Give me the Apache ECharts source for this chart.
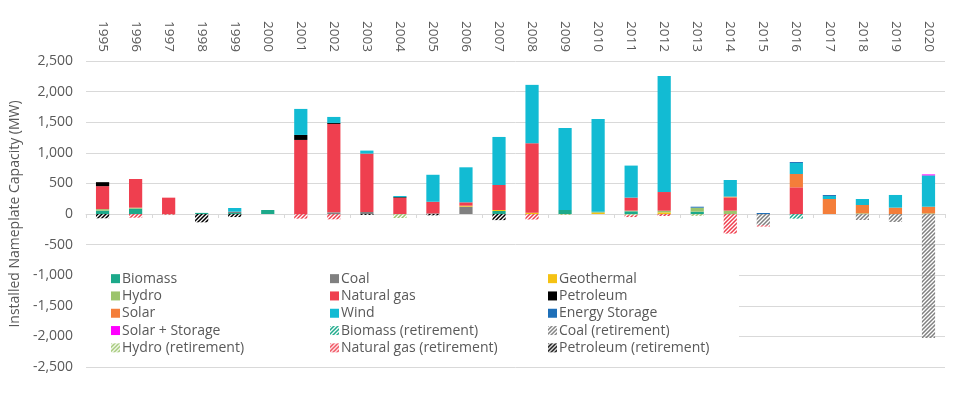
<!DOCTYPE html>
<html><head><meta charset="utf-8">
<script src="https://cdn.jsdelivr.net/npm/echarts@6/dist/echarts.min.js"></script>
<style>html,body{margin:0;padding:0;background:#fff}#c{width:962px;height:395px}</style>
</head><body><div id="c"></div>
<script>
const years = ['1995','1996','1997','1998','1999','2000','2001','2002','2003','2004','2005','2006','2007','2008','2009','2010','2011','2012','2013','2014','2015','2016','2017','2018','2019','2020'];
const yTicks = [-2500,-2000,-1500,-1000,-500,0,500,1000,1500,2000,2500];
//                 1995 1996 1997 1998 1999 2000 2001 2002 2003 2004 2005 2006 2007 2008 2009 2010 2011 2012 2013 2014 2015 2016 2017 2018 2019 2020
const biomass     = [55,  87,  0,   18,  16,  65,  0,   0,   0,   0,   0,   0,   49,  0,   65,  0,   44,  0,   38,  0,   0,   0,   0,   0,   0,   0];
const coal        = [0,   0,   0,   0,   22,  0,   0,   27,  33,  0,   10,  120, 0,   0,   0,   0,   0,   0,   0,   0,   0,   0,   0,   0,   0,   0];
const geothermal  = [0,   0,   0,   0,   0,   0,   0,   0,   0,   0,   0,   16,  16,  22,  0,   20,  0,   27,  0,   0,   0,   0,   0,   0,   0,   0];
const hydro       = [25,  16,  0,   0,   0,   0,   0,   0,   0,   0,   0,   0,   0,   0,   0,   18,  11,  27,  65,  55,  0,   0,   0,   11,  0,   10];
const naturalGas  = [375, 469, 267, 0,   0,   0,   1210,1445,954, 267, 190, 55,  409, 1134,0,   0,   213, 305, 0,   213, 0,   436, 0,   0,   0,   0];
const petroleum   = [65,  0,   0,   0,   0,   0,   82,  16,  0,   10,  0,   0,   0,   0,   0,   0,   0,   0,   0,   0,   0,   0,   0,   0,   0,   0];
const solar       = [0,   0,   0,   0,   0,   0,   0,   0,   0,   0,   0,   0,   0,   0,   0,   0,   0,   0,   0,   16,  0,   218, 245, 136, 104, 109];
const wind        = [0,   0,   0,   0,   60,  0,   425, 98,  49,  17,  441, 572, 785, 954, 1341,1515,523, 1897,0,   272, 0,   180, 49,  98,  207, 512];
const storage     = [0,   0,   0,   0,   0,   0,   0,   0,   0,   0,   0,   0,   0,   0,   0,   0,   0,   0,   16,  0,   16,  16,  16,  0,   0,   0];
const solarStor   = [0,   0,   0,   0,   0,   0,   0,   0,   0,   0,   0,   0,   0,   0,   0,   0,   0,   0,   0,   0,   0,   0,   0,   0,   0,   16];
const biomassRet  = [0,   0,   0,   0,   0,   0,   0,   0,   0,   0,   0,   0,   0,   0,   0,   0,   0,   0,   0,   0,   0,   -76, 0,   0,   0,   0];
const coalRet     = [0,   0,   0,   0,   0,   0,   0,   0,   0,   0,   0,   0,   0,   0,   0,   0,   0,   0,   0,   0,   -185,0,   0,   -98, -130,-2026];
const hydroRet    = [0,   0,   -5,  0,   0,   0,   0,   0,   0,   -65, 0,   0,   0,   0,   -15, 0,   -20, 0,   -30, 0,   0,   0,   0,   0,   0,   0];
const gasRet      = [0,   -60, -12, 0,   0,   0,   -76, -87, 0,   0,   0,   0,   0,   -90, 0,   0,   -30, -33, 0,   -320,-20, 0,   0,   0,   0,   0];
const petroRet    = [-70, 0,   0,   -136,-50, 0,   0,   0,   -15, 0,   -22, 0,   -100,0,   0,   0,   0,   0,   0,   0,   0,   0,   0,   0,   0,   0];

function hatch(color){
  const c=document.createElement('canvas'); c.width=4; c.height=4;
  const g=c.getContext('2d'); g.strokeStyle=color; g.lineWidth=1.5; g.lineCap='square';
  g.beginPath(); g.moveTo(0,4); g.lineTo(4,0); g.moveTo(-1,1); g.lineTo(1,-1); g.moveTo(3,5); g.lineTo(5,3); g.stroke();
  return {image:c, repeat:'repeat'};
}
const C = {biomass:'#1CA98A', coal:'#808080', geo:'#F5C213', hydro:'#9CC46C', gas:'#EF3F4F', pet:'#000000', solar:'#F47E3A', wind:'#12BBD3', stor:'#1E6FB8', ss:'#FF00FF'};
function s(name, data, color){
  return {name, type:'bar', stack:'total', data, barWidth:'40%', itemStyle:{color}, emphasis:{disabled:true}};
}
const series = [
  s('Biomass', biomass, C.biomass), s('Coal', coal, C.coal), s('Geothermal', geothermal, C.geo),
  s('Hydro', hydro, C.hydro), s('Natural gas', naturalGas, C.gas), s('Petroleum', petroleum, C.pet),
  s('Solar', solar, C.solar), s('Wind', wind, C.wind), s('Energy Storage', storage, C.stor),
  s('Solar + Storage', solarStor, C.ss),
  s('Biomass (retirement)', biomassRet, hatch(C.biomass)), s('Coal (retirement)', coalRet, hatch(C.coal)),
  s('Hydro (retirement)', hydroRet, hatch(C.hydro)), s('Natural gas (retirement)', gasRet, hatch(C.gas)),
  s('Petroleum (retirement)', petroRet, hatch(C.pet))
];
const font = 'Open Sans';
const txt = '#595959';
function leg(left, data){
  return {orient:'vertical', left, top:270, padding:0, itemGap:0, itemWidth:9, itemHeight:9, icon:'rect', data,
    selectedMode:false, textStyle:{fontFamily:font, fontSize:14, color:txt, lineHeight:17.3, padding:[0,0,0,-3]}};
}
const chart = echarts.init(document.getElementById('c'));
chart.setOption({
  animation:false,
  textStyle:{fontFamily:font},
  grid:{left:84, right:17, top:61, bottom:28, containLabel:false},
  graphic:[{type:'rect', left:85, top:251, z:1, shape:{width:654, height:111}, style:{fill:'#fff'}}],
  legend:[
    leg(111, ['Biomass','Hydro','Solar','Solar + Storage','Hydro (retirement)']),
    leg(330, ['Coal','Natural gas','Wind','Biomass (retirement)','Natural gas (retirement)']),
    leg(548, ['Geothermal','Petroleum','Energy Storage','Coal (retirement)','Petroleum (retirement)'])
  ],
  xAxis:[
    {type:'category', data:years, position:'bottom',
     axisLine:{onZero:true, lineStyle:{color:'#d9d9d9', width:1}},
     axisTick:{show:true, length:4, lineStyle:{color:'#d9d9d9'}},
     axisLabel:{show:false}},
    {type:'category', data:years, position:'top',
     axisLine:{show:false}, axisTick:{show:false},
     axisLabel:{rotate:90, margin:9, fontFamily:font, fontSize:13.5, color:txt}}
  ],
  yAxis:{type:'value', min:yTicks[0], max:yTicks[yTicks.length-1], interval:500,
    name:'Installed Nameplate Capacity (MW)', nameLocation:'middle', nameGap:58,
    nameTextStyle:{fontFamily:font, fontSize:14, color:txt},
    axisLine:{show:false}, axisTick:{show:false},
    splitLine:{lineStyle:{color:'#d9d9d9'}},
    axisLabel:{margin:13, fontFamily:font, fontSize:14, color:txt, formatter:v=>v.toLocaleString('en-US')}},
  series
});
</script></body></html>
